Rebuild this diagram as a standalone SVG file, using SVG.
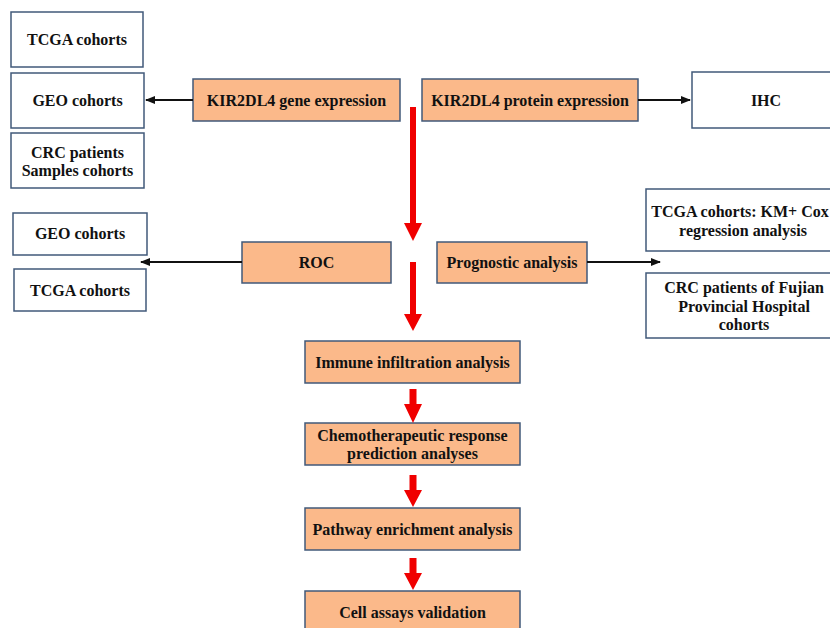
<svg xmlns="http://www.w3.org/2000/svg" width="830" height="628" viewBox="0 0 830 628">
<defs>
<style>
.w{fill:#ffffff;stroke:#41597a;stroke-width:1.5}
.o{fill:#fbb98a;stroke:#41597a;stroke-width:1.5}
text{font-family:"Times New Roman","Liberation Serif","DejaVu Serif",serif;font-weight:bold;font-size:16px;fill:#111;text-anchor:middle}
.k{stroke:#111;stroke-width:2;fill:none}
.r{fill:#f00000}
</style>
<marker id="ah" viewBox="0 0 10 10" refX="9" refY="5" markerWidth="5" markerHeight="5" orient="auto" markerUnits="strokeWidth">
<path d="M0,1 L10,5 L0,9 z" fill="#111"/>
</marker>
</defs>
<rect width="830" height="628" fill="#ffffff"/>
<g id="n-tcga1"><rect class="w" x="11" y="12" width="132" height="55"/><text x="77" y="45">TCGA cohorts</text></g>
<g id="n-geo1"><rect class="w" x="11" y="73" width="133" height="55"/><text x="77.5" y="106">GEO cohorts</text></g>
<g id="n-crc1"><rect class="w" x="11" y="133" width="133" height="55"/><text x="77.5" y="158">CRC patients</text><text x="77.5" y="176">Samples cohorts</text></g>
<g id="n-gene"><rect class="o" x="193" y="79" width="207" height="42"/><text x="296.5" y="105.5">KIR2DL4 gene expression</text></g>
<g id="n-protein"><rect class="o" x="422" y="79" width="216" height="42"/><text x="530" y="105.5">KIR2DL4 protein expression</text></g>
<g id="n-ihc"><rect class="w" x="692" y="72" width="150" height="56"/><text x="766" y="105.5">IHC</text></g>
<g id="n-geo2"><rect class="w" x="13" y="213" width="134" height="42"/><text x="80" y="239">GEO cohorts</text></g>
<g id="n-tcga2"><rect class="w" x="14" y="269" width="132" height="42"/><text x="80" y="296">TCGA cohorts</text></g>
<g id="n-roc"><rect class="o" x="242" y="242" width="149" height="41"/><text x="316.5" y="268">ROC</text></g>
<g id="n-prog"><rect class="o" x="437" y="242" width="150" height="41"/><text x="512" y="268">Prognostic analysis</text></g>
<g id="n-tcgakm"><rect class="w" x="646" y="189" width="196" height="62"/><text x="740" y="217">TCGA cohorts: KM+ Cox</text><text x="743" y="236">regression analysis</text></g>
<g id="n-fujian"><rect class="w" x="646" y="273" width="196" height="65"/><text x="744" y="293">CRC patients of Fujian</text><text x="744" y="312">Provincial Hospital</text><text x="744" y="330">cohorts</text></g>
<g id="n-immune"><rect class="o" x="305" y="341" width="215" height="42"/><text x="412.5" y="368">Immune infiltration analysis</text></g>
<g id="n-chemo"><rect class="o" x="305" y="423" width="215" height="42"/><text x="412.5" y="441">Chemotherapeutic response</text><text x="412.5" y="459">prediction analyses</text></g>
<g id="n-pathway"><rect class="o" x="305" y="508" width="215" height="42"/><text x="412.5" y="535">Pathway enrichment analysis</text></g>
<g id="n-cell"><rect class="o" x="305" y="591" width="215" height="45"/><text x="412.5" y="618">Cell assays validation</text></g>
<g id="connectors">
<line class="k" x1="193" y1="100" x2="146" y2="100" marker-end="url(#ah)"/>
<line class="k" x1="638" y1="100" x2="690" y2="100" marker-end="url(#ah)"/>
<line class="k" x1="242" y1="262" x2="141" y2="262" marker-end="url(#ah)"/>
<line class="k" x1="587" y1="262" x2="660" y2="262" marker-end="url(#ah)"/>
<path class="r" d="M410,107 H416 V223 H422 L413,241 L404,223 H410 Z"/>
<path class="r" d="M410,262 H416 V314 H422 L413,331 L404,314 H410 Z"/>
<path class="r" d="M409.5,389 H416.5 V404 H422 L413,423 L404,404 H409.5 Z"/>
<path class="r" d="M409.5,475 H416.5 V490 H422 L413,507 L404,490 H409.5 Z"/>
<path class="r" d="M409.5,558 H416.5 V573 H422 L413,590 L404,573 H409.5 Z"/>
</g>
</svg>
